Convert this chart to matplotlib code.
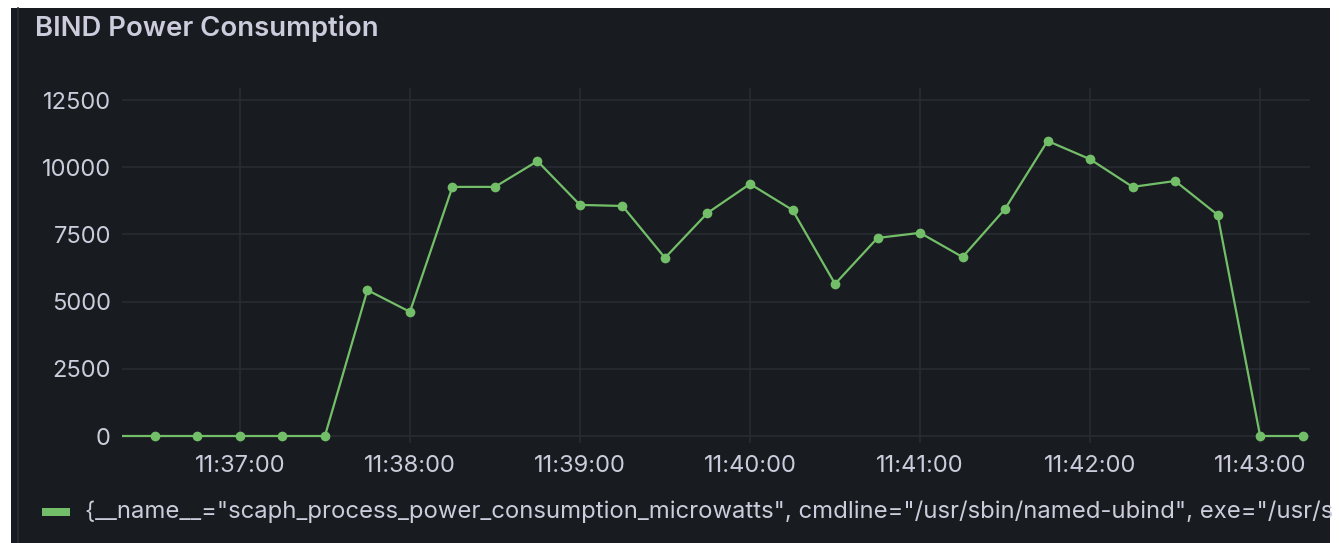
import numpy as np
import matplotlib.pyplot as plt
import matplotlib.dates as mdates
from matplotlib.patches import Rectangle
from datetime import datetime, timedelta

# samples every 15 s, first one sits just left of the visible range
start = datetime(2024, 1, 1, 11, 36, 15)
power = [0, 0, 0, 0, 0, 0, 5430, 4620, 9270, 9270, 10230, 8600, 8560,
         6630, 8300, 9380, 8410, 5660, 7370, 7560, 6660, 8450, 10980,
         10300, 9270, 9490, 8230, 0, 0]
times = [start + timedelta(seconds=15 * i) for i in range(len(power))]

title = "BIND Power Consumption"
# legend label as far as it is visible in the panel
legend_text = ('{__name__="scaph_process_power_consumption_microwatts", '
               'cmdline="/usr/sbin/named-ubind", exe="/usr/s')
yticks = [0, 2500, 5000, 7500, 10000, 12500]

W, H = 1339, 543
bg = "#181b1f"
txt = "#ccccdc"
green = "#73bf69"
grid = "#2a2d33"

plt.rcParams['font.family'] = ['Inter', 'DejaVu Sans']

fig = plt.figure(figsize=(W / 100, H / 100), dpi=100, facecolor="white")
# dark panel behind everything
fig.patches.append(Rectangle((11 / W, 0), (1330 - 11) / W, 1 - 8 / H,
                             transform=fig.transFigure, facecolor=bg,
                             edgecolor="none", zorder=-10))
fig.lines.append(plt.Line2D([17.5 / W, 17.5 / W], [0, 1 - 8 / H],
                            transform=fig.transFigure, color="#2b2e33",
                            lw=1.2, zorder=-5))

ax = fig.add_axes([122 / W, 1 - 443 / H, (1310 - 122) / W, (443 - 88) / H])
ax.patch.set_alpha(0)

ax.plot(times, power, color=green, lw=1.6, marker="o", ms=7,
        markeredgewidth=0, zorder=3)

ax.set_xlim(datetime(2024, 1, 1, 11, 36, 18, 400000),
            datetime(2024, 1, 1, 11, 43, 17, 600000))
ax.set_ylim(-260, 12950)
ax.set_yticks(yticks)
ax.xaxis.set_major_locator(mdates.MinuteLocator())
ax.xaxis.set_major_formatter(mdates.DateFormatter("%H:%M:%S"))

for s in ax.spines.values():
    s.set_visible(False)
ax.grid(True, color=grid, lw=1.1)
ax.set_axisbelow(True)
ax.tick_params(axis="both", length=0, colors=txt, labelsize=17)
ax.tick_params(axis="y", pad=8)
ax.tick_params(axis="x", pad=9)

fig.text(35 / W, 1 - 28 / H, title, color=txt, fontsize=19.8,
         fontweight="semibold", va="center", ha="left")

# legend row
fig.patches.append(Rectangle((42 / W, 1 - 516 / H), 28 / W, 8 / H,
                             transform=fig.transFigure, facecolor=green,
                             edgecolor="none", zorder=2))
fig.text(85 / W, 1 - 512 / H, legend_text, color=txt, fontsize=17.2,
         va="center", ha="left", zorder=3)

fig.savefig("out.png", dpi=100, facecolor="white")
